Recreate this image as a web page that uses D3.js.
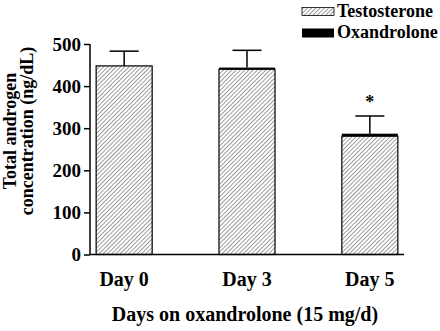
<!DOCTYPE html>
<html>
<head>
<meta charset="utf-8">
<script src="https://cdn.jsdelivr.net/npm/d3@7"></script>
<style>
  body { margin: 0; background: #fff; }
  svg text { font-family: "Liberation Serif", "Times New Roman", serif !important; font-weight: bold; fill: #000; }
</style>
</head>
<body>
<div id="vis"></div>
<script>
// group labels and means (ng/dL)
var days = ['Day 0', 'Day 3', 'Day 5'];
var testosterone = [448, 440, 281];
var oxandrolone = [0, 4, 6];
var errorTop = [483, 485, 329];
var significant = [false, false, true];
var yTicks = [0, 100, 200, 300, 400, 500];

var width = 440;
var height = 331;

var svg = d3
  .select('#vis')
  .append('svg')
  .attr('width', width)
  .attr('height', height);

var defs = svg.append('defs');
defs
  .append('pattern')
  .attr('id', 'hatch')
  .attr('patternUnits', 'userSpaceOnUse')
  .attr('width', 3)
  .attr('height', 3)
  .attr('patternTransform', 'rotate(45)')
  .append('line')
  .attr('x1', 0)
  .attr('y1', 0)
  .attr('x2', 0)
  .attr('y2', 3)
  .attr('stroke', '#222')
  .attr('stroke-width', 0.9);

var x = d3
  .scaleBand()
  .domain(days)
  .range([90, 404])
  .paddingInner(0.544)
  .paddingOuter(0.05);

var y = d3.scaleLinear().domain([0, 500]).range([254.5, 44]);

// testosterone part of each bar
svg
  .selectAll('rect.testo')
  .data(days)
  .enter()
  .append('rect')
  .attr('class', 'testo')
  .attr('x', d => x(d))
  .attr('width', x.bandwidth())
  .attr('y', (d, i) => y(testosterone[i]))
  .attr('height', (d, i) => y(0) - y(testosterone[i]))
  .attr('fill', 'url(#hatch)')
  .attr('stroke', '#000')
  .attr('stroke-width', 1.2);

// oxandrolone stacked on top
svg
  .selectAll('rect.oxa')
  .data(days)
  .enter()
  .append('rect')
  .attr('class', 'oxa')
  .attr('x', d => x(d))
  .attr('width', x.bandwidth())
  .attr('y', (d, i) => y(testosterone[i] + oxandrolone[i]))
  .attr('height', (d, i) => y(testosterone[i]) - y(testosterone[i] + oxandrolone[i]))
  .attr('fill', '#000');

// error bars
var err = svg
  .selectAll('g.err')
  .data(days)
  .enter()
  .append('g')
  .attr('class', 'err')
  .attr('stroke', '#000')
  .attr('stroke-width', 1.5);

err
  .append('line')
  .attr('x1', d => x(d) + x.bandwidth() / 2)
  .attr('x2', d => x(d) + x.bandwidth() / 2)
  .attr('y1', (d, i) => y(testosterone[i] + oxandrolone[i]))
  .attr('y2', (d, i) => y(errorTop[i]));

err
  .append('line')
  .attr('x1', d => x(d) + x.bandwidth() / 2 - 14.5)
  .attr('x2', d => x(d) + x.bandwidth() / 2 + 14.5)
  .attr('y1', (d, i) => y(errorTop[i]))
  .attr('y2', (d, i) => y(errorTop[i]));

svg
  .selectAll('text.star')
  .data(days.filter((d, i) => significant[i]))
  .enter()
  .append('text')
  .attr('class', 'star')
  .attr('x', d => x(d) + x.bandwidth() / 2)
  .attr('y', d => y(errorTop[days.indexOf(d)]) - 8)
  .attr('text-anchor', 'middle')
  .style('font-size', '18px')
  .text('*');

// y axis
var yAxis = svg
  .append('g')
  .attr('transform', 'translate(90,0)')
  .call(d3.axisLeft(y).tickValues(yTicks).tickSize(6).tickPadding(3))
  .attr('font-family', null)
  .attr('font-size', null);
yAxis.selectAll('path, line').attr('stroke', '#000').attr('stroke-width', 1.5);
yAxis.select('.domain').attr('d', `M0,${y(500)}V${y(0)}`);
yAxis.selectAll('text').style('font-size', '19px');

// x axis line only, labels sit below
svg
  .append('line')
  .attr('x1', 90)
  .attr('x2', 404)
  .attr('y1', y(0))
  .attr('y2', y(0))
  .attr('stroke', '#000')
  .attr('stroke-width', 1.5);

svg
  .selectAll('text.day')
  .data(days)
  .enter()
  .append('text')
  .attr('class', 'day')
  .attr('x', d => x(d) + x.bandwidth() / 2)
  .attr('y', 286)
  .attr('text-anchor', 'middle')
  .style('font-size', '20px')
  .text(d => d);

svg
  .append('text')
  .attr('x', 245)
  .attr('y', 321)
  .attr('text-anchor', 'middle')
  .style('font-size', '20px')
  .text('Days on oxandrolone (15 mg/d)');

// y title, two lines
var yTitle = svg
  .append('text')
  .attr('transform', 'translate(0,131) rotate(-90)')
  .attr('text-anchor', 'middle')
  .style('font-size', '18px');
yTitle.append('tspan').attr('x', 0).attr('y', 16).text('Total androgen');
yTitle.append('tspan').attr('x', 0).attr('y', 33).text('concentration (ng/dL)');

// legend
var legend = svg.append('g').attr('transform', 'translate(302,0)');
legend
  .append('rect')
  .attr('x', 0)
  .attr('y', 7.5)
  .attr('width', 32)
  .attr('height', 8)
  .attr('fill', 'url(#hatch)')
  .attr('stroke', '#000')
  .attr('stroke-width', 0.8);
legend
  .append('rect')
  .attr('x', 0)
  .attr('y', 28.5)
  .attr('width', 32)
  .attr('height', 9)
  .attr('fill', '#000');
legend
  .append('text')
  .attr('x', 35)
  .attr('y', 16.5)
  .style('font-size', '18px')
  .text('Testosterone');
legend
  .append('text')
  .attr('x', 35)
  .attr('y', 38)
  .style('font-size', '18px')
  .text('Oxandrolone');
</script>
</body>
</html>
